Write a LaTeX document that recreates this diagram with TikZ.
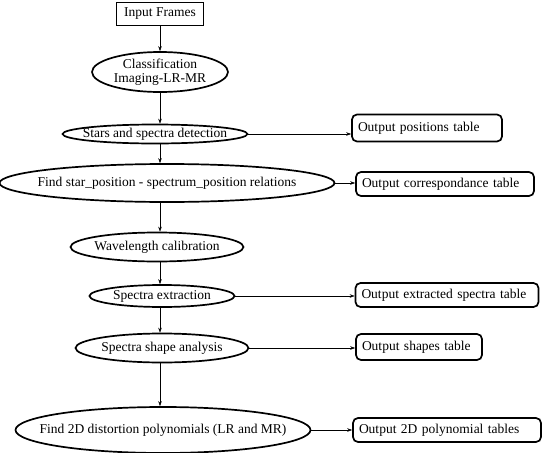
\documentclass[tikz,border=0pt]{standalone}
\usepackage{fontspec}
\setmainfont{Liberation Serif}
\usetikzlibrary{shapes.geometric,arrows.meta}

\tikzset{
    flow/.style={ellipse, draw, line width=1.7pt, inner xsep=-30pt, inner ysep=-10pt, align=center},
    outbox/.style={rectangle, draw, rounded corners=5pt, line width=1.7pt, inner xsep=6pt, align=left},
}

\begin{document}
\begin{tikzpicture}[x=1pt, y=-1pt, >={Stealth[length=5pt,width=3.5pt]}, font=\fontsize{13.5}{16}\selectfont]
        \useasboundingbox (0,0) rectangle (542,453);

        \node[rectangle, draw, line width=1.7pt, minimum width=87pt, minimum height=23pt] (in) at (160,14) {Input Frames};
        \node[flow, minimum width=136pt, minimum height=40pt] (cls) at (160,72) {Classification\\[-1.5pt]Imaging-LR-MR};
        \node[flow, minimum width=185pt, minimum height=19pt] (stars) at (155,134) {Stars and spectra detection};
        \node[flow, minimum width=335pt, minimum height=38pt] (rel) at (167,183) {Find star\_position - spectrum\_position relations};
        \node[flow, minimum width=173pt, minimum height=29pt] (wave) at (157,247) {Wavelength calibration};
        \node[flow, minimum width=145pt, minimum height=22pt] (ext) at (162,296) {Spectra extraction};
        \node[flow, minimum width=173pt, minimum height=29pt] (shape) at (162,348) {Spectra shape analysis};
        \node[flow, minimum width=295pt, minimum height=46pt] (poly) at (163,430) {Find 2D distortion polynomials (LR and MR)};

        \node[outbox, text width=138pt, minimum height=27pt] (opos) at (427,128) {Output positions table};
        \node[outbox, text width=166pt, minimum height=24pt] (ocor) at (445,184) {Output correspondance table};
        \node[outbox, text width=171pt, minimum height=24pt] (oext) at (447,295) {Output extracted spectra table};
        \node[outbox, text width=114pt, minimum height=26pt] (oshp) at (419,347) {Output shapes table};
        \node[outbox, text width=176pt, minimum height=24pt] (opol) at (447,430) {Output 2D polynomial tables};

        \draw[->] (in.south) -- (cls.north);
        \draw[->] (cls.south) -- (cls.south |- stars.north);
        \draw[->] (stars.south -| in.south) -- (rel.north -| in.south);
        \draw[->] (rel.south -| in.south) -- (wave.north -| in.south);
        \draw[->] (wave.south -| in.south) -- (ext.north -| in.south);
        \draw[->] (ext.south -| in.south) -- (shape.north -| in.south);
        \draw[->] (shape.south -| in.south) -- (poly.north -| in.south);

        \draw[->] (stars.east) -- (stars.east -| opos.west);
        \draw[->] (rel.east) -- (rel.east -| ocor.west);
        \draw[->] (ext.east) -- (ext.east -| oext.west);
        \draw[->] (shape.east) -- (shape.east -| oshp.west);
        \draw[->] (poly.east) -- (poly.east -| opol.west);
        \end{tikzpicture}
\end{document}
